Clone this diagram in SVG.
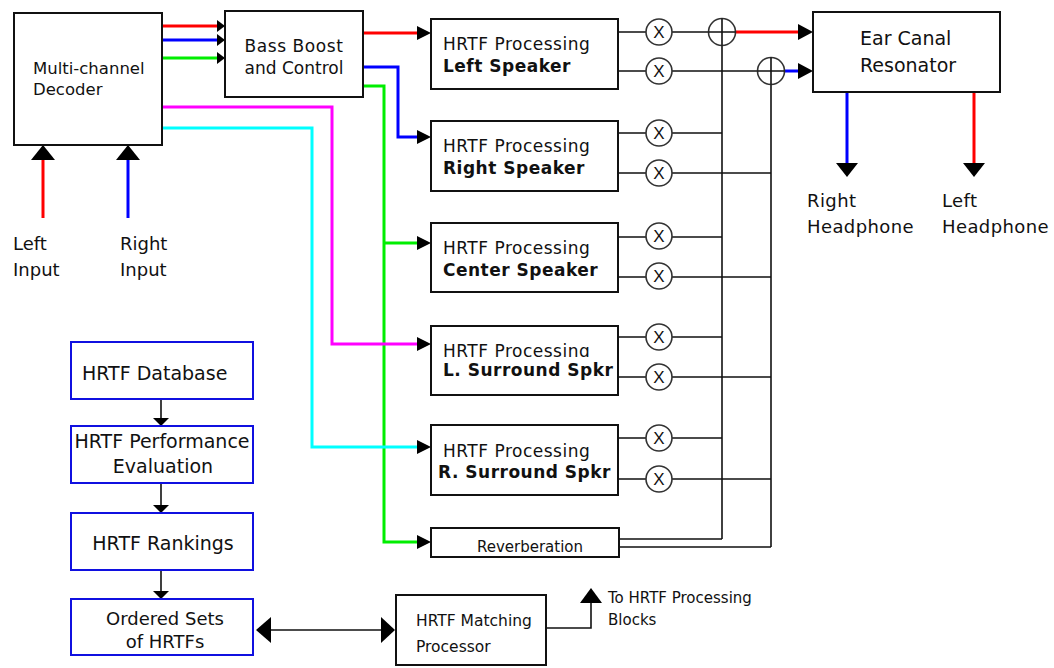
<svg xmlns="http://www.w3.org/2000/svg" width="1054" height="668" viewBox="0 0 1054 668">
<style>
.box{fill:#fff;stroke:#111;stroke-width:2}
.bbox{fill:#fff;stroke:#1010e0;stroke-width:2}
.t{font-family:"DejaVu Sans",Verdana,sans-serif;fill:#111}
.r17{font-size:17px;letter-spacing:0.5px}
.b17{font-size:17px;font-weight:bold;letter-spacing:0.5px}
.w{stroke:#111;stroke-width:1.6;fill:none}
.c3{stroke-width:3;fill:none}
.circ{fill:#fff;stroke:#333;stroke-width:1.6}
.mx{font-family:"Liberation Sans",Arial,sans-serif;font-size:17px;fill:#111;text-anchor:middle}
.ah{fill:#000}
</style>
<defs>
<clipPath id="clipL"><rect x="430" y="320" width="200" height="37"/></clipPath>
</defs>
<rect width="1054" height="668" fill="#fff"/>

<g id="connectors">
<!-- decoder to bass -->
<path class="c3" stroke="#ff0000" d="M162,26 H218"/>
<path class="c3" stroke="#0000ff" d="M162,40 H218"/>
<path class="c3" stroke="#00ee00" d="M162,58 H218"/>
<polygon class="ah" points="217,20 225,26 217,32"/>
<polygon class="ah" points="217,34 225,40 217,46"/>
<polygon class="ah" points="217,52 225,58 217,64"/>
<!-- bass outputs -->
<path class="c3" stroke="#ff0000" d="M363,33 H418"/>
<path class="c3" stroke="#0000ff" d="M363,67 H398 V137 H418"/>
<path class="c3" stroke="#00ee00" d="M363,86 H384 V542 H418 M384,243 H418"/>
<path class="c3" stroke="#ff00ff" d="M162,107 H332 V344 H418"/>
<path class="c3" stroke="#00ffff" d="M162,128 H312 V447 H418"/>
<polygon class="ah" points="417,26 431,33 417,40"/>
<polygon class="ah" points="417,130 431,137 417,144"/>
<polygon class="ah" points="417,236 431,243 417,250"/>
<polygon class="ah" points="417,337 431,344 417,351"/>
<polygon class="ah" points="417,440 431,447 417,454"/>
<polygon class="ah" points="417,535 431,542 417,549"/>
<!-- inputs -->
<path class="c3" stroke="#ff0000" d="M43,218 V158"/>
<path class="c3" stroke="#0000ff" d="M128,218 V158"/>
<polygon class="ah" points="31,160 43,145 55,160"/>
<polygon class="ah" points="116,160 128,145 140,160"/>
<!-- HRTF outputs to multipliers and buses -->
<path class="w" d="M618,32 H710 M618,71 H758"/>
<path class="w" d="M618,133 H722 M618,173 H771"/>
<path class="w" d="M618,237 H722 M618,277 H771"/>
<path class="w" d="M618,337 H722 M618,377 H771"/>
<path class="w" d="M618,438 H722 M618,479 H771"/>
<path class="w" d="M619,539 H722 M619,547 H771"/>
<path class="w" d="M722,46 V539"/>
<path class="w" d="M771,85 V547"/>
<!-- sums to ear canal -->
<path class="c3" stroke="#ff0000" d="M735,32 H800"/>
<path class="c3" stroke="#0000ff" d="M785,71 H800"/>
<polygon class="ah" points="798,24 813,32 798,40"/>
<polygon class="ah" points="798,63 813,71 798,79"/>
<!-- ear canal outputs -->
<path class="c3" stroke="#0000ff" d="M847,92 V165"/>
<path class="c3" stroke="#ff0000" d="M974,92 V165"/>
<polygon class="ah" points="836,163 847,177 858,163"/>
<polygon class="ah" points="963,163 974,177 985,163"/>
<!-- blue chain -->
<path class="w" d="M161,399 V420 M161,483 V507 M161,570 V593"/>
<polygon class="ah" points="153,418 161,426 169,418"/>
<polygon class="ah" points="153,505 161,513 169,505"/>
<polygon class="ah" points="153,591 161,599 169,591"/>
<!-- double arrow -->
<path class="w" d="M268,630 H384"/>
<polygon class="ah" points="271,617 256,630 271,643"/>
<polygon class="ah" points="381,617 395,630 381,643"/>
<!-- to HRTF processing -->
<path class="w" d="M546,628 H591 V600"/>
<polygon class="ah" points="580,603 591,588 602,603"/>
</g>

<g id="decoder">
<rect class="box" x="14" y="13" width="148" height="132"/>
<text class="t" x="33" y="74" font-size="16.5">Multi-channel</text>
<text class="t" x="33" y="95" font-size="16.5">Decoder</text>
</g>
<g id="bass">
<rect class="box" x="225" y="11" width="138" height="86"/>
<text class="t" x="294" y="52" font-size="17" text-anchor="middle" letter-spacing="0.6">Bass Boost</text>
<text class="t" x="294" y="74" font-size="17" text-anchor="middle">and Control</text>
</g>

<g id="hrtf-left">
<rect class="box" x="431" y="19" width="187" height="70"/>
<text class="t r17" x="443" y="50">HRTF Processing</text>
<text class="t b17" x="443" y="72">Left Speaker</text>
</g>
<g id="hrtf-right">
<rect class="box" x="431" y="121" width="187" height="70"/>
<text class="t r17" x="443" y="152">HRTF Processing</text>
<text class="t b17" x="443" y="174">Right Speaker</text>
</g>
<g id="hrtf-center">
<rect class="box" x="431" y="223" width="187" height="69"/>
<text class="t r17" x="443" y="254">HRTF Processing</text>
<text class="t b17" x="443" y="276">Center Speaker</text>
</g>
<g id="hrtf-lsurround">
<rect class="box" x="431" y="326" width="187" height="69"/>
<text class="t r17" x="443" y="357" clip-path="url(#clipL)">HRTF Processing</text>
<text class="t b17" x="443" y="376">L. Surround Spkr</text>
</g>
<g id="hrtf-rsurround">
<rect class="box" x="431" y="425" width="187" height="70"/>
<text class="t r17" x="443" y="457">HRTF Processing</text>
<text class="t b17" x="438" y="478">R. Surround Spkr</text>
</g>
<g id="reverb">
<rect class="box" x="431" y="528" width="188" height="29"/>
<text class="t" x="530" y="552" font-size="15" text-anchor="middle">Reverberation</text>
</g>

<g id="multipliers">
<circle class="circ" cx="659" cy="32" r="13"/><text class="mx" x="659" y="38">X</text>
<circle class="circ" cx="659" cy="71" r="13"/><text class="mx" x="659" y="77">X</text>
<circle class="circ" cx="659" cy="133" r="13"/><text class="mx" x="659" y="139">X</text>
<circle class="circ" cx="659" cy="173" r="13"/><text class="mx" x="659" y="179">X</text>
<circle class="circ" cx="659" cy="236" r="13"/><text class="mx" x="659" y="242">X</text>
<circle class="circ" cx="659" cy="276" r="13"/><text class="mx" x="659" y="282">X</text>
<circle class="circ" cx="659" cy="337" r="13"/><text class="mx" x="659" y="343">X</text>
<circle class="circ" cx="659" cy="377" r="13"/><text class="mx" x="659" y="383">X</text>
<circle class="circ" cx="659" cy="438" r="13"/><text class="mx" x="659" y="444">X</text>
<circle class="circ" cx="659" cy="479" r="13"/><text class="mx" x="659" y="485">X</text>
</g>
<g id="sum-left">
<circle class="circ" cx="722" cy="32" r="13.5"/>
<path class="w" d="M708.5,32 H735.5 M722,18.5 V45.5"/>
</g>
<g id="sum-right">
<circle class="circ" cx="771" cy="71" r="13.5"/>
<path class="w" d="M757.5,71 H784.5 M771,57.5 V84.5"/>
</g>

<g id="ear-canal">
<rect class="box" x="813" y="12" width="187" height="80"/>
<text class="t" x="860" y="45" font-size="19">Ear Canal</text>
<text class="t" x="860" y="72" font-size="19">Resonator</text>
</g>
<g id="right-headphone">
<text class="t" x="807" y="207" font-size="18" letter-spacing="0.4">Right</text>
<text class="t" x="807" y="233" font-size="18" letter-spacing="0.4">Headphone</text>
</g>
<g id="left-headphone">
<text class="t" x="942" y="207" font-size="18" letter-spacing="0.4">Left</text>
<text class="t" x="942" y="233" font-size="18" letter-spacing="0.4">Headphone</text>
</g>
<g id="left-input">
<text class="t" x="13" y="250" font-size="18">Left</text>
<text class="t" x="13" y="276" font-size="18">Input</text>
</g>
<g id="right-input">
<text class="t" x="120" y="250" font-size="18">Right</text>
<text class="t" x="120" y="276" font-size="18">Input</text>
</g>

<g id="hrtf-database">
<rect class="bbox" x="71" y="342" width="182" height="57"/>
<text class="t" x="82" y="380" font-size="19">HRTF Database</text>
</g>
<g id="hrtf-performance">
<rect class="bbox" x="71" y="426" width="182" height="57"/>
<text class="t" x="162" y="448" font-size="19" text-anchor="middle">HRTF Performance</text>
<text class="t" x="163" y="473" font-size="19" text-anchor="middle">Evaluation</text>
</g>
<g id="hrtf-rankings">
<rect class="bbox" x="71" y="513" width="182" height="57"/>
<text class="t" x="163" y="550" font-size="19" text-anchor="middle">HRTF Rankings</text>
</g>
<g id="ordered-sets">
<rect class="bbox" x="71" y="599" width="182" height="56"/>
<text class="t" x="165" y="625" font-size="18" text-anchor="middle">Ordered Sets</text>
<text class="t" x="165" y="648" font-size="18" text-anchor="middle">of HRTFs</text>
</g>
<g id="matching">
<rect class="box" x="396" y="595" width="150" height="70"/>
<text class="t" x="416" y="626" font-size="15.5">HRTF Matching</text>
<text class="t" x="416" y="652" font-size="15.5">Processor</text>
</g>
<g id="to-hrtf-label">
<text class="t" x="608" y="603" font-size="15">To HRTF Processing</text>
<text class="t" x="608" y="625" font-size="15">Blocks</text>
</g>
</svg>
